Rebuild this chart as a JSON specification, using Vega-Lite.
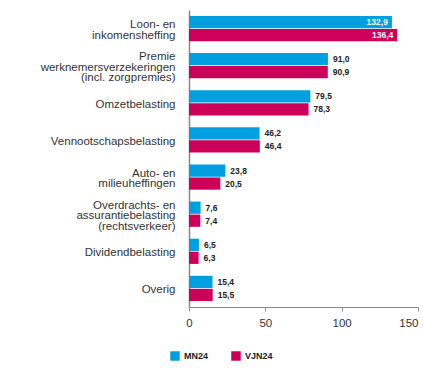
{
  "$schema": "https://vega.github.io/schema/vega-lite/v6.json",
  "width": 229,
  "height": 297,
  "padding": {"left": 5, "top": 10, "right": 5, "bottom": 5},
  "background": "white",
  "config": {
    "locale": {"number": {"decimal": ",", "thousands": ".", "grouping": [3], "currency": ["€", ""]}},
    "view": {"stroke": null},
    "font": "Liberation Sans"
  },
  "data": {
    "values": [
      {"cat": "Loon- en|inkomensheffing", "series": "MN24", "value": 132.9},
      {"cat": "Loon- en|inkomensheffing", "series": "VJN24", "value": 136.4},
      {"cat": "Premie|werknemersverzekeringen|(incl. zorgpremies)", "series": "MN24", "value": 91.0},
      {"cat": "Premie|werknemersverzekeringen|(incl. zorgpremies)", "series": "VJN24", "value": 90.9},
      {"cat": "Omzetbelasting", "series": "MN24", "value": 79.5},
      {"cat": "Omzetbelasting", "series": "VJN24", "value": 78.3},
      {"cat": "Vennootschapsbelasting", "series": "MN24", "value": 46.2},
      {"cat": "Vennootschapsbelasting", "series": "VJN24", "value": 46.4},
      {"cat": "Auto- en|milieuheffingen", "series": "MN24", "value": 23.8},
      {"cat": "Auto- en|milieuheffingen", "series": "VJN24", "value": 20.5},
      {"cat": "Overdrachts- en|assurantiebelasting|(rechtsverkeer)", "series": "MN24", "value": 7.6},
      {"cat": "Overdrachts- en|assurantiebelasting|(rechtsverkeer)", "series": "VJN24", "value": 7.4},
      {"cat": "Dividendbelasting", "series": "MN24", "value": 6.5},
      {"cat": "Dividendbelasting", "series": "VJN24", "value": 6.3},
      {"cat": "Overig", "series": "MN24", "value": 15.4},
      {"cat": "Overig", "series": "VJN24", "value": 15.5}
    ]
  },
  "encoding": {
    "y": {
      "field": "cat", "type": "nominal", "sort": null, "title": null,
      "scale": {"paddingInner": 0.32, "paddingOuter": 0.16},
      "axis": {
        "labelExpr": "split(datum.label, '|')",
        "ticks": false, "domainColor": "#888888", "domainWidth": 1.5,
        "labelFontSize": 11.5, "labelColor": "#333333", "labelPadding": 14,
        "labelLineHeight": 10.5, "labelLimit": 0,
        "labelOffset": {
          "condition": [
            {"test": "length(split(datum.label, '|')) == 3", "value": -8.5},
            {"test": "length(split(datum.label, '|')) == 2", "value": -3.25}
          ],
          "value": 2
        },
        "minExtent": 184, "maxExtent": 184
      }
    },
    "yOffset": {"field": "series", "type": "nominal", "scale": {"paddingInner": 0.06}},
    "x": {
      "field": "value", "type": "quantitative", "title": null,
      "scale": {"domain": [0, 150], "nice": false},
      "axis": {
        "values": [0, 50, 100, 150], "grid": false, "domainColor": "#888888",
        "tickColor": "#888888", "tickSize": 4, "labelFontSize": 11.5,
        "labelColor": "#333333", "labelPadding": 6,
        "labelAlign": {"condition": {"test": "datum.value == 150", "value": "right"}, "value": "center"}
      }
    }
  },
  "layer": [
    {
      "mark": {"type": "bar"},
      "encoding": {
        "color": {
          "field": "series", "type": "nominal", "title": null,
          "scale": {"domain": ["MN24", "VJN24"], "range": ["#009FDF", "#CC0058"]},
          "legend": {
            "orient": "none", "direction": "horizontal", "legendX": -19, "legendY": 341,
            "symbolType": "square", "symbolSize": 90, "symbolStrokeWidth": 0,
            "labelFontSize": 9, "labelFontWeight": "bold", "labelColor": "#222222",
            "columnPadding": 22, "labelOffset": 4
          }
        }
      }
    },
    {
      "transform": [{"filter": "datum.value > 100"}],
      "mark": {"type": "text", "align": "right", "dx": -4, "fontSize": 8.5, "fontWeight": "bold", "color": "white"},
      "encoding": {"text": {"field": "value", "type": "quantitative", "format": ".1f"}}
    },
    {
      "transform": [{"filter": "datum.value <= 100"}],
      "mark": {"type": "text", "align": "left", "dx": 5, "fontSize": 8.5, "fontWeight": "bold", "color": "#222222"},
      "encoding": {"text": {"field": "value", "type": "quantitative", "format": ".1f"}}
    }
  ]
}
